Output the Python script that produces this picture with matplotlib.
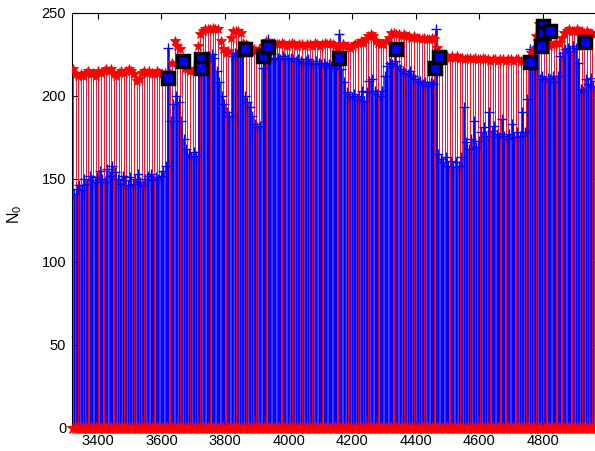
import numpy as np
import matplotlib
matplotlib.use("Agg")
import matplotlib.pyplot as plt

plt.rcParams['font.family'] = ['Liberation Sans', 'DejaVu Sans']
plt.rcParams['mathtext.fontset'] = 'custom'
plt.rcParams['mathtext.rm'] = 'Liberation Sans'
plt.rcParams['mathtext.it'] = 'Liberation Sans'

# === données ===
# positions des tiges (échantillons réguliers)
x_rouge = np.arange(3322, 4971, 8)
x_bleu = x_rouge + 4

# valeurs N0 "rouges" (enveloppe haute, marqueurs *)
n0_rouge = [
    216, 213, 212, 213, 212, 214, 215, 213, 214, 212,
    215, 214, 215, 216, 215, 216, 213, 212, 214, 215,
    214, 215, 216, 215, 213, 209, 210, 214, 215, 214,
    215, 214, 213, 215, 214, 213, 214, 212, 214, 220,
    233, 230, 228, 222, 217, 216, 215, 215, 216, 230,
    237, 239, 240, 240, 240, 241, 240, 240, 233, 228,
    226, 227, 235, 239, 239, 239, 238, 232, 231, 229,
    227, 228, 227, 228, 226, 230, 233, 232, 231, 232,
    231, 231, 232, 231, 230, 231, 232, 231, 230, 231,
    231, 230, 231, 231, 230, 232, 231, 230, 231, 232,
    231, 232, 231, 230, 229, 230, 231, 230, 230, 229,
    230, 231, 232, 233, 232, 234, 236, 237, 236, 233,
    232, 231, 231, 233, 235, 238, 238, 237, 237, 236,
    237, 236, 236, 235, 236, 235, 235, 234, 235, 234,
    234, 235, 234, 229, 226, 225, 224, 224, 223, 224,
    223, 224, 223, 223, 222, 223, 223, 222, 223, 222,
    222, 223, 222, 222, 221, 222, 222, 221, 222, 222,
    221, 222, 222, 221, 222, 222, 221, 221, 221, 222,
    226, 228, 236, 243, 238, 232, 231, 230, 231, 231,
    232, 232, 235, 238, 239, 240, 239, 239, 240, 239,
    239, 238, 239, 238, 237, 237, 238,
]

# valeurs N0 "bleues" (marqueurs +)
n0_bleu = [
    141, 144, 146, 143, 150, 147, 152, 149, 148, 151,
    155, 150, 148, 156, 152, 158, 154, 150, 147, 152,
    149, 146, 151, 147, 150, 153, 148, 146, 150, 152,
    153, 149, 151, 150, 152, 155, 158, 229, 185, 195,
    200, 196, 185, 174, 168, 165, 163, 166, 164, 221,
    222, 223, 221, 224, 225, 223, 215, 208, 200, 195,
    190, 188, 224, 226, 225, 226, 224, 200, 196, 193,
    188, 183, 181, 182, 217, 222, 234, 223, 222, 223,
    223, 222, 224, 223, 222, 223, 222, 221, 222, 221,
    220, 221, 222, 220, 219, 221, 220, 219, 220, 218,
    219, 218, 217, 218, 237, 216, 208, 202, 200, 199,
    201, 198, 200, 203, 197, 202, 209, 210, 203, 201,
    200, 203, 212, 218, 220, 219, 221, 218, 216, 215,
    214, 213, 215, 212, 210, 208, 209, 207, 208, 206,
    208, 207, 240, 165, 162, 160, 163, 158, 161, 157,
    160, 158, 163, 193, 172, 168, 174, 185, 169, 173,
    178, 181, 176, 190, 179, 182, 177, 175, 186, 176,
    174, 177, 183, 175, 178, 176, 190, 178, 198, 228,
    221, 228, 230, 210, 212, 209, 211, 210, 212, 208,
    212, 224, 226, 228, 229, 227, 230, 229, 220, 204,
    203, 210, 207, 211, 206, 209, 205,
]

# pics détectés (carrés noirs)
x_pics = [3620, 3668, 3724, 3724, 3862, 3920, 3934, 4159, 4338, 4459,
          4472, 4759, 4793, 4801, 4801, 4822, 4932]
n0_pics = [211, 221, 222, 217, 228, 224, 229.5, 223, 228, 217,
           223.5, 220.5, 230, 242, 237.5, 239, 232.5]

n0_rouge = np.array(n0_rouge)
n0_bleu = np.array(n0_bleu)

# === figure ===
fig = plt.figure(figsize=(5.95, 4.51), dpi=100)
ax = fig.add_axes([0.1205, 0.051, 0.888, 0.9208])

pair = np.arange(len(x_rouge)) % 2 == 0

# tiges rouges (une sur deux sous le bleu)
ax.vlines(x_rouge[~pair], 0, n0_rouge[~pair], color='#b4327a', linewidth=0.8, zorder=1)
ax.vlines(x_bleu, 0, n0_bleu, color='blue', linewidth=1.8, zorder=2)
ax.vlines(x_rouge[pair], 0, n0_rouge[pair], color='red', linewidth=0.65, zorder=3)

ax.plot(x_bleu, n0_bleu, linestyle='none', marker='+', color='blue',
        markersize=7.5, markeredgewidth=1, zorder=4)
ax.plot(x_rouge, n0_rouge, linestyle='none', marker='*', color='red',
        markersize=7, markeredgewidth=0.6, zorder=5)
# marqueurs de base à zéro
ax.plot(x_rouge, np.zeros(len(x_rouge)), linestyle='none', marker='*', color='red',
        markersize=9, markeredgewidth=0.8, zorder=5, clip_on=False)
ax.plot(x_pics, n0_pics, linestyle='none', marker='s', markerfacecolor='blue',
        markeredgecolor='black', markersize=8, markeredgewidth=2.5, zorder=6)

ax.set_xlim(3318, 4979)
ax.set_ylim(0, 250)
ax.set_xticks(np.arange(3400, 4801, 200))
ax.set_yticks(np.arange(0, 251, 50))
ax.tick_params(direction='in', top=True, right=True, length=4, width=0.8,
               labelsize=10.5, pad=4)
for s in ax.spines.values():
    s.set_linewidth(0.8)

ax.set_ylabel(r'$\mathregular{N_0}$', fontsize=11.5)
ax.yaxis.set_label_coords(-0.09, 0.515)

fig.savefig('out.png', dpi=100)
